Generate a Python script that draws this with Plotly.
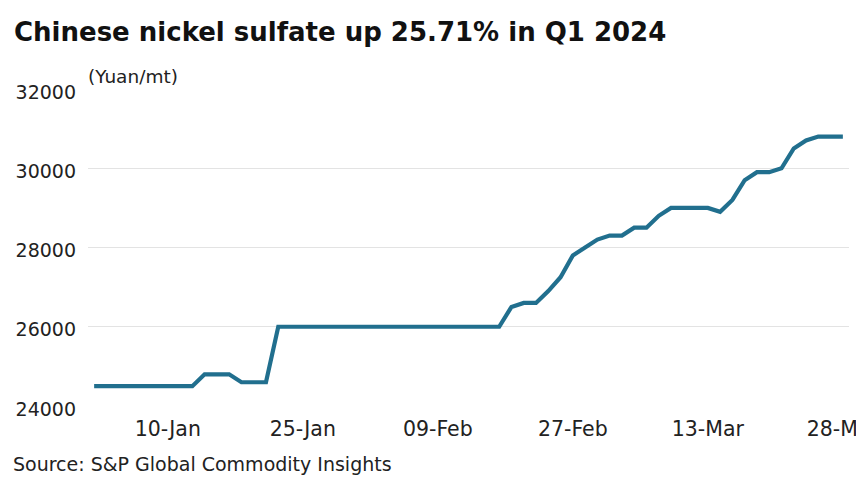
import plotly.graph_objects as go

dates = [
    "02-Jan", "03-Jan", "04-Jan", "05-Jan", "08-Jan", "09-Jan", "10-Jan", "11-Jan", "12-Jan",
    "15-Jan", "16-Jan", "17-Jan", "18-Jan", "19-Jan", "22-Jan", "23-Jan", "24-Jan", "25-Jan",
    "26-Jan", "29-Jan", "30-Jan", "31-Jan", "01-Feb", "02-Feb", "05-Feb", "06-Feb", "07-Feb",
    "08-Feb", "09-Feb", "13-Feb", "14-Feb", "15-Feb", "16-Feb", "19-Feb", "20-Feb", "21-Feb",
    "22-Feb", "23-Feb", "26-Feb", "27-Feb", "28-Feb", "29-Feb", "01-Mar", "04-Mar", "05-Mar",
    "06-Mar", "07-Mar", "08-Mar", "11-Mar", "12-Mar", "13-Mar", "14-Mar", "15-Mar", "18-Mar",
    "19-Mar", "20-Mar", "21-Mar", "22-Mar", "25-Mar", "26-Mar", "27-Mar", "28-Mar",
]

prices = [
    24500, 24500, 24500, 24500, 24500, 24500, 24500, 24500, 24500,
    24800, 24800, 24800, 24600, 24600, 24600, 26000, 26000, 26000,
    26000, 26000, 26000, 26000, 26000, 26000, 26000, 26000, 26000,
    26000, 26000, 26000, 26000, 26000, 26000, 26000, 26500, 26600,
    26600, 26900, 27250, 27800, 28000, 28200, 28300, 28300, 28500,
    28500, 28800, 29000, 29000, 29000, 29000, 28900, 29200, 29700,
    29900, 29900, 30000, 30500, 30700, 30800, 30800, 30800,
]

tick_labels = ["10-Jan", "25-Jan", "09-Feb", "27-Feb", "13-Mar", "28-Mar"]
y_ticks = [24000, 26000, 28000, 30000, 32000]
y_tick_text = ["24000", "26000", "28000", "30000", "32000"]

title_text = "Chinese nickel sulfate up 25.71% in Q1 2024"
unit_text = "(Yuan/mt)"
source_text = "Source: S&P Global Commodity Insights"

FONT = "DejaVu Sans"
W, H = 864, 488
ML, MT, MR, MB = 80, 81, 23, 90
PW, PH = W - ML - MR, H - MT - MB

fig = go.Figure()
fig.add_trace(go.Scatter(
    x=dates, y=prices, mode="lines",
    line=dict(color="#216f8e", width=4.2),
    hoverinfo="x+y",
))

fig.update_layout(
    width=W, height=H,
    margin=dict(l=ML, r=MR, t=MT, b=MB, autoexpand=False),
    paper_bgcolor="white", plot_bgcolor="white",
    showlegend=False,
    font=dict(family=FONT, color="#222222", size=18),
    title=dict(text="<b>" + title_text + "</b>", x=6 / W, xref="container", xanchor="left",
               y=1 - 24 / H, yref="container", yanchor="middle", pad=dict(l=0, t=0, b=0, r=0),
               font=dict(family=FONT, size=26, color="#111111")),
    annotations=[
        dict(text=unit_text, xref="paper", yref="paper", x=-2 / PW, y=1.0, yshift=13,
             xanchor="left", yanchor="middle", showarrow=False,
             font=dict(family=FONT, size=18.5, color="#222222")),
        dict(text=source_text, xref="paper", yref="paper", x=-77 / PW, y=-57.5 / PH,
             xanchor="left", yanchor="middle", showarrow=False,
             font=dict(family=FONT, size=19, color="#222222")),
    ],
)

fig.update_xaxes(
    type="category", categoryorder="array", categoryarray=dates,
    range=[-0.5, len(dates) - 0.5],
    tickmode="array", tickvals=tick_labels, ticktext=tick_labels,
    showgrid=False, zeroline=False, showline=False, ticks="",
    ticklabelstandoff=8, ticklabeloverflow="allow", automargin=False,
    tickfont=dict(family=FONT, size=20.5, color="#222222"),
)
fig.update_yaxes(
    range=[24000, 32000], tickmode="array", tickvals=y_ticks, ticktext=y_tick_text,
    showgrid=True, gridcolor="#e3e3e3", gridwidth=1,
    zeroline=False, showline=False, ticks="",
    ticklabelstandoff=11, ticklabelshift=3, automargin=False,
    tickfont=dict(family=FONT, size=19, color="#222222"),
)

fig.write_html("out.html")
